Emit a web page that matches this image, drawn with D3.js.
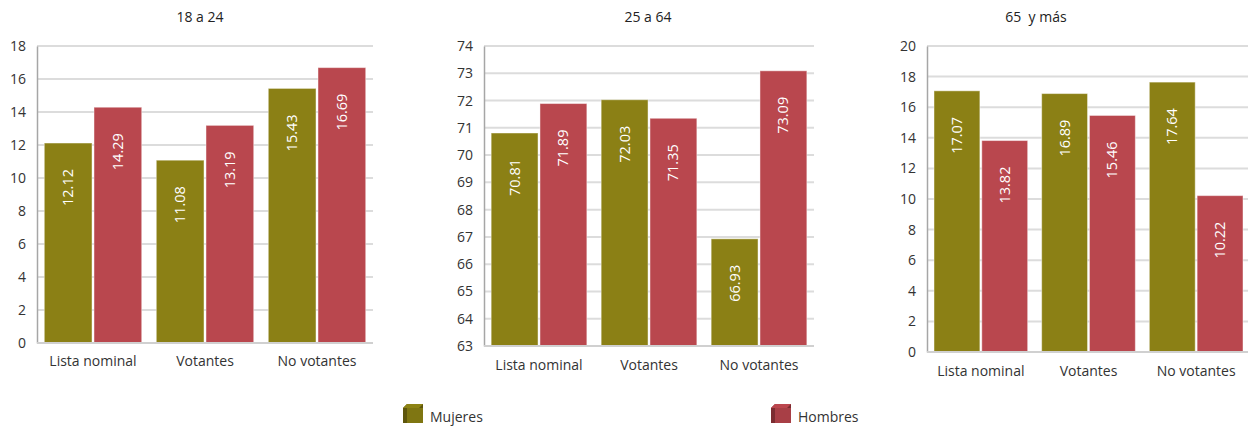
<!DOCTYPE html>
<html>
<head>
<meta charset="utf-8">
<script src="https://cdn.jsdelivr.net/npm/d3@7/dist/d3.min.js"></script>
<style>
  html, body { margin: 0; padding: 0; background: #ffffff; }
  svg { display: block; font-family: "Open Sans", "Noto Sans", sans-serif; }
  text { white-space: pre; }
</style>
</head>
<body>
<svg id="chart" width="1248" height="428"></svg>
<script>
// ---- Data ----
const categories = ["Lista nominal", "Votantes", "No votantes"];
const seriesNames = ["Mujeres", "Hombres"];
const panelTitles = ["18 a 24", "25 a 64", "65  y más"];

const mujeres18a24 = [12.12, 11.08, 15.43];
const hombres18a24 = [14.29, 13.19, 16.69];
const mujeres25a64 = [70.81, 72.03, 66.93];
const hombres25a64 = [71.89, 71.35, 73.09];
const mujeres65 = [17.07, 16.89, 17.64];
const hombres65 = [13.82, 15.46, 10.22];

const ticks18a24 = [0, 2, 4, 6, 8, 10, 12, 14, 16, 18];
const ticks25a64 = [63, 64, 65, 66, 67, 68, 69, 70, 71, 72, 73, 74];
const ticks65 = [0, 2, 4, 6, 8, 10, 12, 14, 16, 18, 20];

// ---- Styles / layout ----
const colors = { Mujeres: "#8B8015", Hombres: "#B9474E" };
const cubeDark = { Mujeres: "#5E560C", Hombres: "#7C2C31" };
const cubeFront = { Mujeres: "#7F7612", Hombres: "#A83F46" };

const panels = [
  { title: panelTitles[0], m: mujeres18a24, h: hombres18a24, ticks: ticks18a24,
    x0: 37, x1: 373, yTop: 46, yBot: 343, titleX: 200, labelY: 366 },
  { title: panelTitles[1], m: mujeres25a64, h: hombres25a64, ticks: ticks25a64,
    x0: 484, x1: 814, yTop: 46, yBot: 346, titleX: 648, labelY: 370 },
  { title: panelTitles[2], m: mujeres65, h: hombres65, ticks: ticks65,
    x0: 927, x1: 1250, yTop: 46, yBot: 352, titleX: 1036, labelY: 376 }
];

const svg = d3.select("#chart");

panels.forEach(p => {
  const g = svg.append("g");
  const y = d3.scaleLinear()
    .domain([p.ticks[0], p.ticks[p.ticks.length - 1]])
    .range([p.yBot, p.yTop]);
  const x0 = d3.scaleBand().domain(categories).range([p.x0, p.x1])
    .paddingInner(0.13).paddingOuter(0.065);
  const x1 = d3.scaleBand().domain(seriesNames).range([0, x0.bandwidth()])
    .paddingInner(0.04);

  // title
  g.append("text")
    .attr("x", p.titleX).attr("y", 22)
    .attr("text-anchor", "middle")
    .attr("font-size", 14).attr("fill", "#222")
    .text(p.title);

  // gridlines
  g.append("g").selectAll("line").data(p.ticks).join("line")
    .attr("x1", p.x0).attr("x2", p.x1)
    .attr("y1", d => y(d)).attr("y2", d => y(d))
    .attr("stroke", "#DCDCDC").attr("stroke-width", 2);

  // y axis
  const yAxis = d3.axisLeft(y).tickValues(p.ticks).tickSize(0).tickPadding(11)
    .tickFormat(d3.format("d"));
  const ya = g.append("g").attr("transform", `translate(${p.x0},0)`).call(yAxis);
  ya.select(".domain").attr("stroke", "#A6A6A6").attr("stroke-width", 1.5);
  ya.selectAll("text").attr("font-size", 14).attr("fill", "#333")
    .attr("font-family", "'Open Sans', 'Noto Sans', sans-serif");

  // bars
  const rows = categories.map((c, i) => ({ c, vals: [
    { s: "Mujeres", v: p.m[i] }, { s: "Hombres", v: p.h[i] } ] }));
  const grp = g.append("g").selectAll("g").data(rows).join("g")
    .attr("transform", d => `translate(${x0(d.c)},0)`);
  grp.selectAll("rect").data(d => d.vals).join("rect")
    .attr("x", d => x1(d.s))
    .attr("y", d => y(d.v))
    .attr("width", x1.bandwidth())
    .attr("height", d => p.yBot - y(d.v))
    .attr("fill", d => colors[d.s])
    .attr("stroke", "rgba(255,255,255,0.45)").attr("stroke-width", 1);
  grp.selectAll("text").data(d => d.vals).join("text")
    .attr("transform", d => `translate(${x1(d.s) + x1.bandwidth() / 2},${y(d.v) + 26}) rotate(-90)`)
    .attr("text-anchor", "end")
    .attr("dy", "0.35em")
    .attr("font-size", 14.5).attr("fill", "#fff")
    .text(d => d.v.toFixed(2));

  // x axis line
  g.append("line").attr("x1", p.x0).attr("x2", p.x1)
    .attr("y1", p.yBot).attr("y2", p.yBot)
    .attr("stroke", "#D0D0D0").attr("stroke-width", 2);

  // category labels
  g.append("g").selectAll("text").data(categories).join("text")
    .attr("x", d => x0(d) + x0.bandwidth() / 2)
    .attr("y", p.labelY)
    .attr("text-anchor", "middle")
    .attr("font-size", 14).attr("fill", "#333")
    .text(d => d);
});

// ---- Legend ----
const legendItems = [ { s: "Mujeres", x: 403 }, { s: "Hombres", x: 771 } ];
const lg = svg.append("g").selectAll("g").data(legendItems).join("g")
  .attr("transform", d => `translate(${d.x},404)`);
lg.append("path")
  .attr("d", "M0,4 L4,0 L20,0 L20,15 L16,19 L0,19 Z")
  .attr("fill", d => cubeDark[d.s]);
lg.append("rect")
  .attr("x", 4).attr("y", 4).attr("width", 16).attr("height", 15)
  .attr("fill", d => cubeFront[d.s]);
lg.append("path")
  .attr("d", "M0,4 L4,0 L20,0 L16,4 Z")
  .attr("fill", d => d3.color(cubeFront[d.s]).brighter(0.3));
lg.append("text")
  .attr("x", 27).attr("y", 18)
  .attr("font-size", 14).attr("fill", "#333")
  .text(d => d.s);
</script>
</body>
</html>
